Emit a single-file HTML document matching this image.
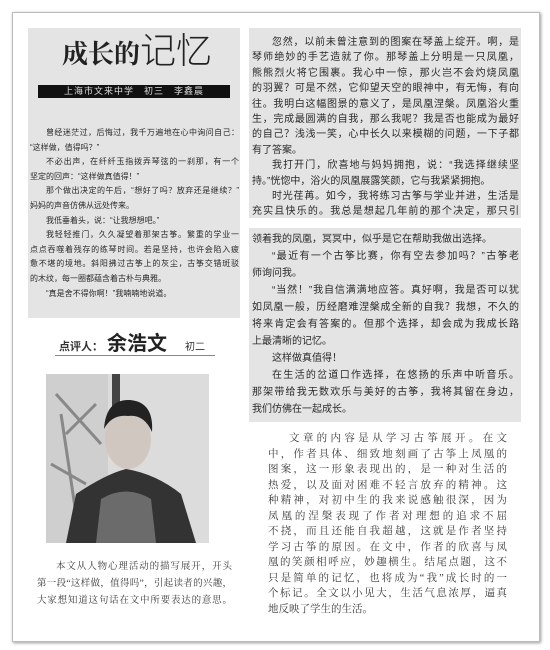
<!DOCTYPE html>
<html><head><meta charset="utf-8"><style>
body{margin:0;width:550px;height:650px;background:#fff;position:relative;overflow:hidden;font-family:"Liberation Sans","Noto Sans CJK SC",sans-serif;color:#333}
.frame{position:absolute;left:12px;top:12px;width:526px;height:628px;border:1px solid #bbb;box-shadow:1px 1px 3px #999;background:#fff}
.box{position:absolute;background:#e4e4e4}
.t{position:absolute;color:#2a2a2a}
.t div{white-space:nowrap;overflow:visible}
.t div.j{text-align:justify;text-align-last:justify;white-space:normal}
.t div.i{padding-left:2em}
.s{font-family:"Liberation Serif","Noto Serif CJK SC",serif;color:#3a3a3a}
</style></head><body>
<div class="frame"></div>
<div class="box" style="left:28px;top:28px;width:212px;height:290px"></div>
<div style="position:absolute;left:62px;top:28px;font-size:26px;line-height:40px;color:#222;font-family:'Noto Serif CJK SC',serif;font-weight:bold">成长的<span style="font-size:36px;font-weight:300;font-family:'Noto Sans CJK SC',sans-serif">记忆</span></div>
<div style="position:absolute;left:38px;top:85px;width:192px;height:13px;background:#111;color:#ddd;font-size:9px;line-height:13px;text-align:center;letter-spacing:1px">上海市文来中学　初三　李鑫晨</div>

<div class="t" style="left:30px;top:126px;width:209px;font-size:8px;line-height:14.6px">
<div class="j i">曾经迷茫过，后悔过，我千万遍地在心中询问自己：</div>
<div>“这样做，值得吗？”</div>
<div class="j i">不必出声，在纤纤玉指拨弄琴弦的一刹那，有一个</div>
<div>坚定的回声：“这样做真值得！”</div>
<div class="j i">那个做出决定的午后，“想好了吗？放弃还是继续？”</div>
<div>妈妈的声音仿佛从远处传来。</div>
<div class="i">我低垂着头，说：“让我想想吧。”</div>
<div class="j i">我轻轻推门，久久凝望着那架古筝。繁重的学业一</div>
<div class="j">点点吞噬着残存的练琴时间。若是坚持，也许会陷入疲</div>
<div class="j">惫不堪的境地。斜阳拂过古筝上的灰尘，古筝交错斑驳</div>
<div>的木纹，每一圈都蕴含着古朴与典雅。</div>
<div class="i">“真是舍不得你啊！”我喃喃地说道。</div>
</div>

<div class="box" style="left:249px;top:28px;width:272px;height:190px"></div>
<div class="t" style="left:252px;top:35px;width:267px;font-size:10px;line-height:15.4px">
<div class="j i">忽然，以前未曾注意到的图案在琴盖上绽开。啊，是</div>
<div class="j">琴师绝妙的手艺造就了你。那琴盖上分明是一只凤凰，</div>
<div class="j">熊熊烈火将它围裹。我心中一惊，那火岂不会灼烧凤凰</div>
<div class="j">的羽翼？可是不然，它仰望天空的眼神中，有无悔，有向</div>
<div class="j">往。我明白这幅图景的意义了，是凤凰涅槃。凤凰浴火重</div>
<div class="j">生，完成最圆满的自我，那么我呢？我是否也能成为最好</div>
<div class="j">的自己？浅浅一笑，心中长久以来模糊的问题，一下子都</div>
<div>有了答案。</div>
<div class="j i">我打开门，欣喜地与妈妈拥抱，说：“我选择继续坚</div>
<div>持。”恍惚中，浴火的凤凰展露笑颜，它与我紧紧拥抱。</div>
<div class="j i">时光荏苒。如今，我将练习古筝与学业并进，生活是</div>
<div class="j">充实且快乐的。我总是想起几年前的那个决定，那只引</div>
</div>

<div class="box" style="left:249px;top:228px;width:272px;height:194px"></div>
<div class="t" style="left:252px;top:231px;width:267px;font-size:10px;line-height:17px">
<div>领着我的凤凰，冥冥中，似乎是它在帮助我做出选择。</div>
<div class="j i">“最近有一个古筝比赛，你有空去参加吗？”古筝老</div>
<div>师询问我。</div>
<div class="j i">“当然！”我自信满满地应答。真好啊，我是否可以犹</div>
<div class="j">如凤凰一般，历经磨难涅槃成全新的自我？我想，不久的</div>
<div class="j">将来肯定会有答案的。但那个选择，却会成为我成长路</div>
<div>上最清晰的记忆。</div>
<div class="i">这样做真值得！</div>
<div class="j i">在生活的岔道口作选择，在悠扬的乐声中听音乐。</div>
<div class="j">那架带给我无数欢乐与美好的古筝，我将其留在身边，</div>
<div>我们仿佛在一起成长。</div>
</div>

<div style="position:absolute;left:55px;top:327px;width:160px;border-bottom:1px solid #888;height:28px">
<span style="position:absolute;left:4px;top:11px;font-size:11px;font-weight:bold">点评人：</span>
<span style="position:absolute;left:52px;top:0px;font-size:20px;font-weight:bold;color:#222">余浩文</span>
<span style="position:absolute;left:130px;top:11px;font-size:10px">初二</span></div>
<svg style="position:absolute;left:46px;top:374px" width="163" height="169" viewBox="0 0 163 169">
<rect width="163" height="169" fill="#dcdcdc"/><rect x="0" y="0" width="62" height="169" fill="#cfcfcf"/><rect x="66" y="0" width="8" height="60" fill="#444"/>
<path d="M10 20 L55 70 M20 60 L50 30 M5 90 L40 110 M15 40 L30 140" stroke="#888" stroke-width="3"/>
<path d="M20 169 L30 120 Q60 100 80 95 Q110 100 135 120 L150 169Z" fill="#333"/>
<path d="M50 169 L55 125 Q80 110 105 125 L110 169Z" fill="#6b6b6b"/>
<ellipse cx="82" cy="65" rx="23" ry="30" fill="#d0c8c0"/><path d="M58 55 Q60 25 84 26 Q108 28 106 58 Q98 40 82 42 Q66 40 58 55Z" fill="#222"/>
</svg>

<div class="t s" style="left:37px;top:559px;width:195px;font-size:9.5px;line-height:17px">
<div class="j i">本文从人物心理活动的描写展开，开头</div>
<div class="j">第一段“这样做，值得吗”，引起读者的兴趣，</div>
<div class="j">大家想知道这句话在文中所要表达的意思。</div>
</div>

<div class="t s" style="left:268px;top:431px;width:239px;font-size:10.5px;line-height:15.5px">
<div class="j i">文章的内容是从学习古筝展开。在文</div>
<div class="j">中，作者具体、细致地刻画了古筝上凤凰的</div>
<div class="j">图案，这一形象表现出的，是一种对生活的</div>
<div class="j">热爱，以及面对困难不轻言放弃的精神。这</div>
<div class="j">种精神，对初中生的我来说感触很深，因为</div>
<div class="j">凤凰的涅槃表现了作者对理想的追求不屈</div>
<div class="j">不挠，而且还能自我超越，这就是作者坚持</div>
<div class="j">学习古筝的原因。在文中，作者的欣喜与凤</div>
<div class="j">凰的笑颜相呼应，妙趣横生。结尾点题，这不</div>
<div class="j">只是简单的记忆，也将成为“我”成长时的一</div>
<div class="j">个标记。全文以小见大，生活气息浓厚，逼真</div>
<div>地反映了学生的生活。</div>
</div>
</body></html>
